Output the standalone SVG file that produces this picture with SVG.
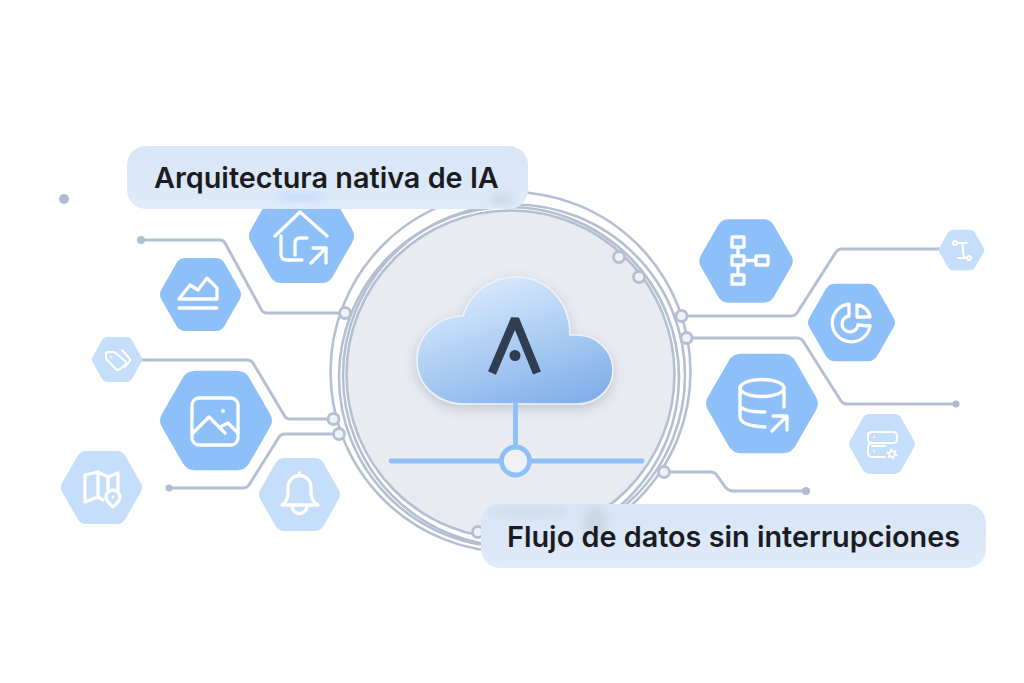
<svg xmlns="http://www.w3.org/2000/svg" width="1024" height="683" viewBox="0 0 1024 683">
<style>
.ring{fill:none;stroke:#B4C0D2;stroke-width:2.6}
.wire{fill:none;stroke:#B4C0D2;stroke-width:3;stroke-linejoin:round;stroke-linecap:round}
.dot{fill:#B0BCCF}
.port{fill:#EEF1F5;stroke:#B4C0D2;stroke-width:2.8}
.dark{fill:#8DBFF8}
.light{fill:#C5DEFA}
.ic{fill:none;stroke:#fff;stroke-width:3.3;stroke-linecap:round;stroke-linejoin:round}
.ics{fill:none;stroke:#fff;stroke-width:2;stroke-linecap:round;stroke-linejoin:round}
.blue{fill:none;stroke:#8DBFF8;stroke-width:4.8;stroke-linecap:round}
.lab{font-family:Inter,"Liberation Sans",sans-serif;font-weight:600;font-size:28.800px;fill:#1B1C1F}
.pill{fill:url(#pillg)}
</style>
<defs>
<path id="hex" d="M-46.5,-6L-28.5,-38Q-25,-44 -18,-44L18,-44Q25,-44 28.5,-38L46.5,-6Q50,0 46.5,6L28.5,38Q25,44 18,44L-18,44Q-25,44 -28.5,38L-46.5,6Q-50,0 -46.5,-6Z"/>
<linearGradient id="cloudg" x1="0.25" y1="0" x2="0.75" y2="1">
<stop offset="0" stop-color="#DCECFD"/><stop offset="1" stop-color="#82B1EA"/>
</linearGradient>
<linearGradient id="pillg" x1="0" y1="0" x2="0" y2="1">
<stop offset="0" stop-color="#D8E5F6"/><stop offset="1" stop-color="#DFEBFB"/>
</linearGradient>
<filter id="shadow" x="-20%" y="-20%" width="140%" height="150%"><feDropShadow dx="0" dy="4" stdDeviation="6" flood-color="#5A6A85" flood-opacity="0.28"/></filter>
<filter id="soft" x="-60%" y="-60%" width="220%" height="220%"><feGaussianBlur stdDeviation="4"/></filter>
<clipPath id="c1"><rect x="127" y="146" width="401" height="63" rx="19"/></clipPath>
<clipPath id="c2"><rect x="481" y="504" width="505" height="64" rx="19"/></clipPath>
</defs>
<rect width="1024" height="683" fill="#fff"/>
<g id="hub">
<circle cx="510.500" cy="375" r="164" fill="#E8EBF0"/>
<circle class="ring" cx="510.500" cy="374.500" r="164"/>
<circle class="ring" cx="514" cy="375.500" r="171"/>
<circle class="ring" cx="509" cy="377" r="170"/>
<circle class="ring" cx="510.500" cy="372" r="180"/>
</g>
<g id="connectors">
<path class="wire" d="M141,240H220Q223,240 225,243L261,309Q263,313 267,313H345"/>
<path class="wire" d="M142,360H247Q251,360 253,363L284,415Q286,419 290,419H333"/>
<path class="wire" d="M169,488H243Q247,488 249,485L279,437Q281,434 285,434H339"/>
<path class="wire" d="M682,316H791Q795,316 797,313L836,252Q838,249 842,249H940"/>
<path class="wire" d="M687,338H797Q801,338 803,341L841,401Q843,404 847,404H956"/>
<path class="wire" d="M664,472H711Q714,472 716,474L726,488Q729,491 733,491H806"/>
<circle class="dot" cx="64" cy="199" r="5"/>
<circle class="dot" cx="141" cy="240" r="4"/>
<circle class="dot" cx="169" cy="488" r="3.500"/>
<circle class="dot" cx="956" cy="404" r="3.500"/>
<circle class="dot" cx="806" cy="491" r="4"/>
<circle class="port" cx="345" cy="313" r="5.500"/>
<circle class="port" cx="333.500" cy="419" r="5.500"/>
<circle class="port" cx="339" cy="434" r="5.500"/>
<circle class="port" cx="619" cy="257" r="5.500"/>
<circle class="port" cx="639" cy="277" r="5.500"/>
<circle class="port" cx="681.500" cy="316" r="5.500"/>
<circle class="port" cx="686.500" cy="338" r="5.500"/>
<circle class="port" cx="664" cy="472" r="5.500"/>
<circle class="port" cx="478" cy="532" r="5.500"/>
</g>
<g id="cloud">
<path d="M465,404C437,404 417,385 417,360C417,335 438,316 463,316C470,292 492,277 516,277C547,277 570,302 570,335L577,335C597,335 613,351 613,370C613,389 597,404 577,404Z" fill="url(#cloudg)" stroke="#EEF3FA" stroke-width="1.500" filter="url(#shadow)"/>
<path d="M492,373L515,319L537,373" fill="none" stroke="#2F3E50" stroke-width="8.500" stroke-linejoin="bevel"/>
<circle cx="515" cy="355.500" r="5.500" fill="#2F3E50"/>
</g>
<g id="bus">
<path class="blue" d="M515.500,404V447"/>
<path class="blue" d="M391,461H501M530,461H642"/>
<circle cx="515.500" cy="461" r="14" fill="#EEF1F5" stroke="#8DBFF8" stroke-width="4.800"/>
</g>
<g id="node-home">
<use href="#hex" class="dark" transform="translate(301.500,236) scale(1.09,1.07)"/>
<path class="ic" d="M275,236L300,212L327,236M281,236V254Q281,260 287,260H302M307,238H300Q295,238 295,243V255M311,263L326,248M313,248H326V263"/>
</g>
<g id="node-chart">
<use href="#hex" class="dark" transform="translate(200.500,294.500) scale(0.84,0.83)"/>
<path class="ic" stroke-width="2.500" d="M179,299L190,285L198,290L207,278L217,288V299ZM179,308H217"/>
</g>
<g id="node-tag">
<use href="#hex" class="light" transform="translate(117,359.500) scale(0.52,0.51)"/>
<path class="ics" d="M107,352H113Q115,352 117,354L125,361Q127,363 125,365L120,369Q118,371 116,369L108,361Q106,359 106,357V353ZM122,350L129,358Q131,360 129,362L125,367"/>
<circle cx="111" cy="357" r="1" fill="#fff"/>
</g>
<g id="node-image">
<use href="#hex" class="dark" transform="translate(216,420.500) scale(1.16,1.13)"/>
<rect class="ic" x="192" y="398" width="46" height="47" rx="7"/>
<path class="ic" d="M193,433L209,417L225,433M220,427L228,423L238,433"/>
<circle cx="223" cy="411" r="2" fill="#fff"/>
</g>
<g id="node-map">
<use href="#hex" class="light" transform="translate(101.500,487.500) scale(0.84,0.83)"/>
<path class="ic" stroke-width="2.500" d="M85,475V502L98,497L103,500M85,475L98,472L108,477L118,473V490M98,472V497M108,477V490"/>
<path class="ic" stroke-width="2.200" d="M113,507Q106,501 106,497A7,7 0 0 1 120,497Q120,501 113,507Z"/>
<circle cx="113" cy="497" r="1.500" fill="#fff"/>
</g>
<g id="node-bell">
<use href="#hex" class="light" transform="translate(299.500,494.500) scale(0.84,0.83)"/>
<path class="ic" stroke-width="2.500" d="M282,505Q288,501 288,492V487A11.500,11.500 0 0 1 311,487V492Q311,501 318,505ZM292,506A7.500,7.500 0 0 0 307,506M299.500,475V473"/>
</g>
<g id="node-flow">
<use href="#hex" class="dark" transform="translate(746,261) scale(0.97,0.95)"/>
<path class="ic" stroke-width="2.500" d="M732,237H744V247H732ZM732,256H744V265H732ZM732,275H744V284H732ZM756,256H768V265H756ZM738,247V256M738,265V275M744,260.500H756"/>
</g>
<g id="node-path">
<use href="#hex" class="light" transform="translate(961.500,250) scale(0.47,0.46)"/>
<path class="ics" d="M958,243H967M961,243Q963,243 963,250Q963,258 966,258M958,258H965"/>
<circle class="ics" cx="955" cy="243" r="2"/>
<circle class="ics" cx="969" cy="258" r="2"/>
</g>
<g id="node-pie">
<use href="#hex" class="dark" transform="translate(851.500,322.500) scale(0.9,0.88)"/>
<path class="ic" d="M849,304A19,19 0 1 0 870,326L858,325A8,8 0 1 1 849,316ZM857,305A14,14 0 0 1 870,317L857,317Z"/>
</g>
<g id="node-db">
<use href="#hex" class="dark" transform="translate(762,403.500) scale(1.16,1.13)"/>
<ellipse class="ic" cx="762" cy="388" rx="22" ry="8.500"/>
<path class="ic" d="M740,388V417Q741,426 765,427M740,406Q744,412 765,412M784,388V407M772,431L787,416M773,416H787V430"/>
</g>
<g id="node-server">
<use href="#hex" class="light" transform="translate(882,444) scale(0.68,0.68)"/>
<path class="ics" d="M872,432H893Q897,432 897,436V439Q897,443 893,443H872Q868,443 868,439V436Q868,432 872,432ZM872,443Q868,443 868,447V453Q868,457 872,457H885M872,446H885"/>
<circle cx="874" cy="437" r="1" fill="#fff"/>
<circle cx="874" cy="451" r="1" fill="#fff"/>
<circle cx="892" cy="454" r="2.800" fill="none" stroke="#fff" stroke-width="1.800"/>
<circle cx="892" cy="454" r="4.500" fill="none" stroke="#fff" stroke-width="1.800" stroke-dasharray="2 2.700"/>
</g>
<g id="label-arquitectura">
<rect class="pill" x="127" y="146" width="401" height="63" rx="19"/>
<g clip-path="url(#c1)">
<ellipse cx="301" cy="197" rx="26" ry="3" fill="#BAD6F9" filter="url(#soft)"/>
<ellipse cx="502" cy="199" rx="12" ry="6" fill="#CBD7E6" filter="url(#soft)"/>
</g>
<text class="lab" x="154" y="188">Arquitectura nativa de IA</text>
</g>
<g id="label-flujo">
<rect class="pill" x="481" y="504" width="505" height="64" rx="19"/>
<g clip-path="url(#c2)">
<ellipse cx="595" cy="522" rx="12" ry="16" fill="#CBD7E6" filter="url(#soft)"/>
<ellipse cx="530" cy="512" rx="40" ry="4" fill="#CFDAE9" filter="url(#soft)"/>
</g>
<text class="lab" x="507" y="547">Flujo de datos sin interrupciones</text>
</g>
</svg>
